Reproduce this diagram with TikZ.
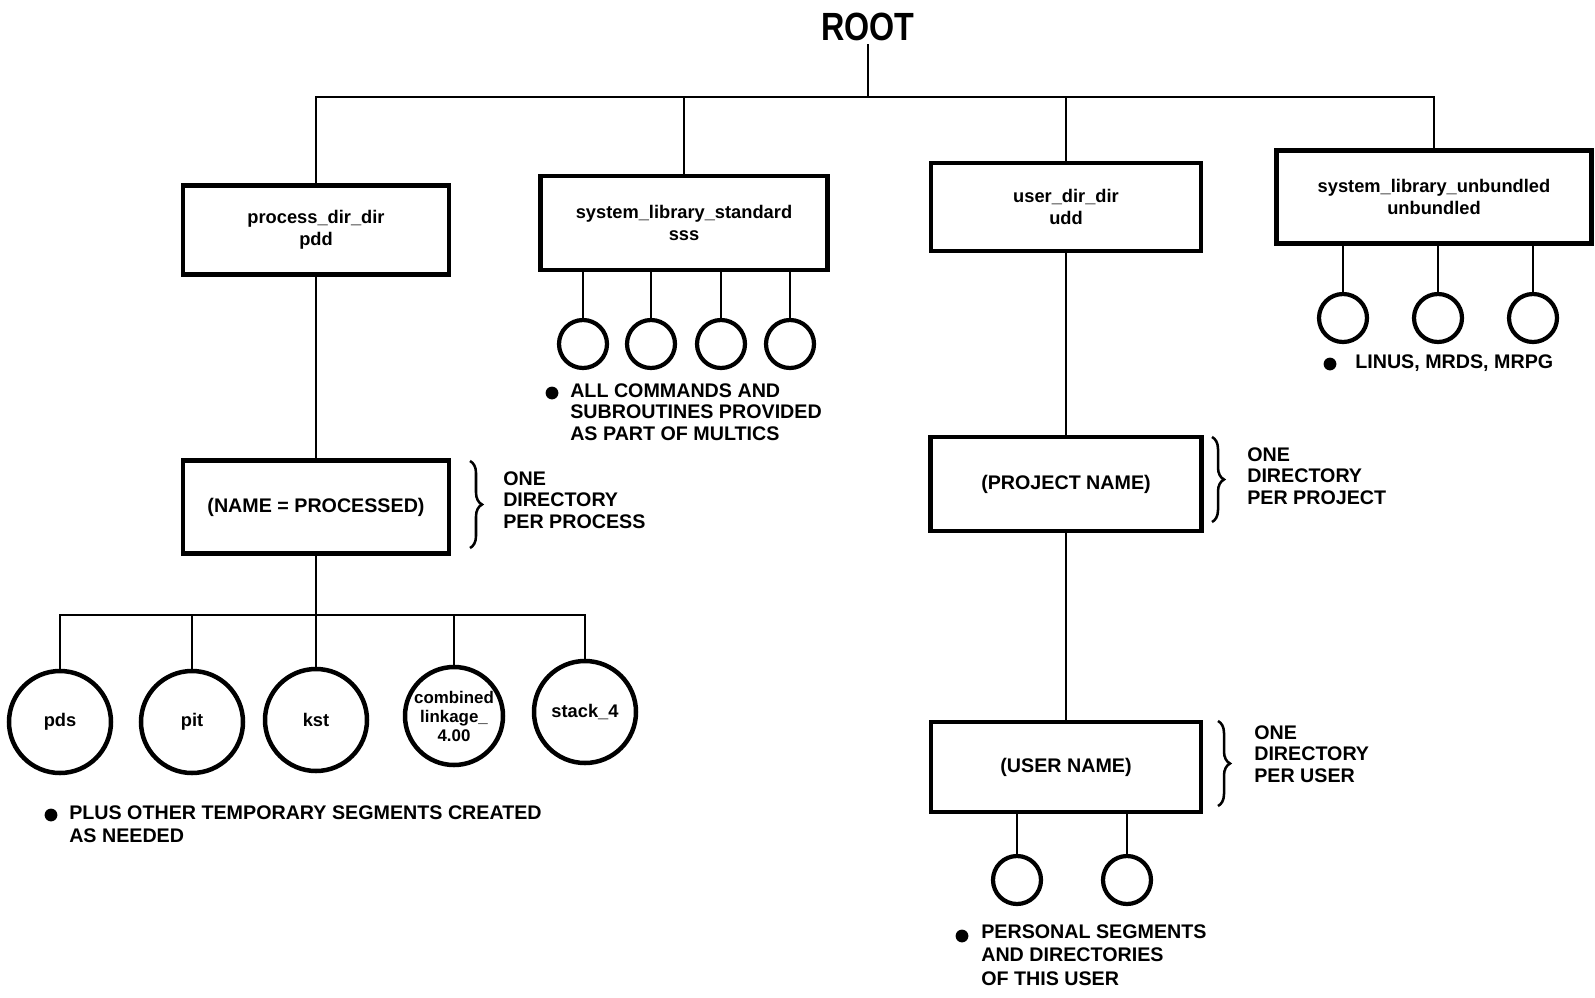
\documentclass[tikz,border=0pt]{standalone}
\usepackage{fontspec}
\usepackage{graphicx}
\setmainfont{Liberation Sans}
\usetikzlibrary{decorations.pathreplacing}

\tikzset{
  dirbox/.style={draw, line width=3.2pt, align=center, inner sep=0pt,
    font=\fontsize{13}{15.5}\selectfont\bfseries},
  bigseg/.style={draw, circle, line width=3.2pt, minimum size=25.5mm, inner sep=0pt,
    align=center, font=\fontsize{13}{14}\selectfont\bfseries},
  smallseg/.style={draw, circle, line width=3pt, minimum size=12mm, inner sep=0pt},
  note/.style={anchor=north west, align=left, inner sep=0pt,
    font=\fontsize{14}{15.3}\selectfont\bfseries},
  dot/.style={circle, fill, inner sep=0pt, minimum size=3.2mm},
  link/.style={line width=2pt},
  grp/.style={line width=1.8pt, decorate, decoration={brace, amplitude=3mm}}
}

\begin{document}
\begin{tikzpicture}[x=0.25mm, y=-0.25mm]

  \useasboundingbox (0,0) rectangle (1595,997);

  % -- Root and first level --
  \node[inner sep=2pt, font=\fontsize{28}{30}\selectfont\bfseries] (root) at (868,27) {\scalebox{0.82}[1]{ROOT}};
  \coordinate (bus) at (868,97);

  \node[dirbox, minimum width=66.5mm, minimum height=22.25mm] (pdd) at (316,230) {process\_dir\_dir\\pdd};
  \node[dirbox, minimum width=71.75mm, minimum height=23.5mm] (sss) at (684,223) {system\_library\_standard\\sss};
  \node[dirbox, minimum width=67.5mm, minimum height=22mm] (udd) at (1066,207) {user\_dir\_dir\\udd};
  \node[dirbox, minimum width=78.75mm, minimum height=23.25mm] (unb) at (1434,197) {system\_library\_unbundled\\unbundled};

  \draw[link] (root.south) -- (bus);
  \draw[link] (pdd.north) -- (pdd.north |- bus) -- (unb.north |- bus) -- (unb.north);
  \draw[link] (sss.north) -- (sss.north |- bus);
  \draw[link] (udd.north) -- (udd.north |- bus);

  % -- Standard library segments --
  \foreach \n/\x in {s1/583, s2/651, s3/721, s4/790} {
    \node[smallseg] (\n) at (\x,344) {};
    \draw[link] (\n.north |- sss.south) -- (\n.north);
  }
  \node[dot] (cmddot) at (552,393) {};
  \node[note] (cmdnote) at (570,383) {ALL COMMANDS AND\\SUBROUTINES PROVIDED\\AS PART OF MULTICS};

  % -- Unbundled library segments --
  \foreach \n/\x in {u1/1343, u2/1438, u3/1533} {
    \node[smallseg] (\n) at (\x,318) {};
    \draw[link] (\n.north |- unb.south) -- (\n.north);
  }
  \node[dot] (unbdot) at (1330,364) {};
  \node[note, anchor=west] (unbnote) at (1355,363) {LINUS, MRDS, MRPG};

  % -- Process directories --
  \node[dirbox, minimum width=66.5mm, minimum height=23.25mm, font=\fontsize{14}{15.5}\selectfont\bfseries] (proc) at (316,507) {(NAME = PROCESSED)};
  \draw[link] (pdd.south) -- (proc.north);
  \draw[grp] (470,461) -- (470,548);
  \node[note] (procnote) at (503,471) {ONE\\DIRECTORY\\PER PROCESS};

  \coordinate (segbus) at (316,615);
  \node[bigseg] (pds) at (60,722) {pds};
  \node[bigseg] (pit) at (192,722) {pit};
  \node[bigseg] (kst) at (316,720) {kst};
  \node[bigseg, minimum size=24.5mm, font=\fontsize{12}{13.5}\selectfont\bfseries] (cmb) at (454,716) {combined\\linkage\_\\4.00};
  \node[bigseg] (stk) at (585,712) {stack\_4};

  \draw[link] (proc.south) -- (segbus);
  \draw[link] (pds.north) -- (pds.north |- segbus) -- (stk.north |- segbus) -- (stk.north);
  \foreach \n in {pit, kst, cmb} {
    \draw[link] (\n.north) -- (\n.north |- segbus);
  }
  \node[dot] (procdot) at (51,815) {};
  \node[note, font=\fontsize{14}{17}\selectfont\bfseries] (segnote) at (69,805) {PLUS OTHER TEMPORARY SEGMENTS CREATED\\AS NEEDED};

  % -- Project and user directories --
  \node[dirbox, minimum width=67.75mm, minimum height=23.5mm, font=\fontsize{14}{15.5}\selectfont\bfseries] (proj) at (1066,484) {(PROJECT NAME)};
  \node[dirbox, minimum width=67.5mm, minimum height=22.5mm, font=\fontsize{14}{15.5}\selectfont\bfseries] (user) at (1066,767) {(USER NAME)};
  \draw[link] (udd.south) -- (proj.north);
  \draw[link] (proj.south) -- (user.north);

  \draw[grp] (1212,437) -- (1212,522);
  \node[note] (projnote) at (1247,447) {ONE\\DIRECTORY\\PER PROJECT};
  \draw[grp] (1218,721) -- (1218,806);
  \node[note] (usernote) at (1254,725) {ONE\\DIRECTORY\\PER USER};

  \foreach \n/\x in {p1/1017, p2/1127} {
    \node[smallseg] (\n) at (\x,880) {};
    \draw[link] (\n.north |- user.south) -- (\n.north);
  }
  \node[dot] (userdot) at (962,936) {};
  \node[note, font=\fontsize{14}{17}\selectfont\bfseries] (usernote2) at (981,924) {PERSONAL SEGMENTS\\AND DIRECTORIES\\OF THIS USER};

\end{tikzpicture}
\end{document}
